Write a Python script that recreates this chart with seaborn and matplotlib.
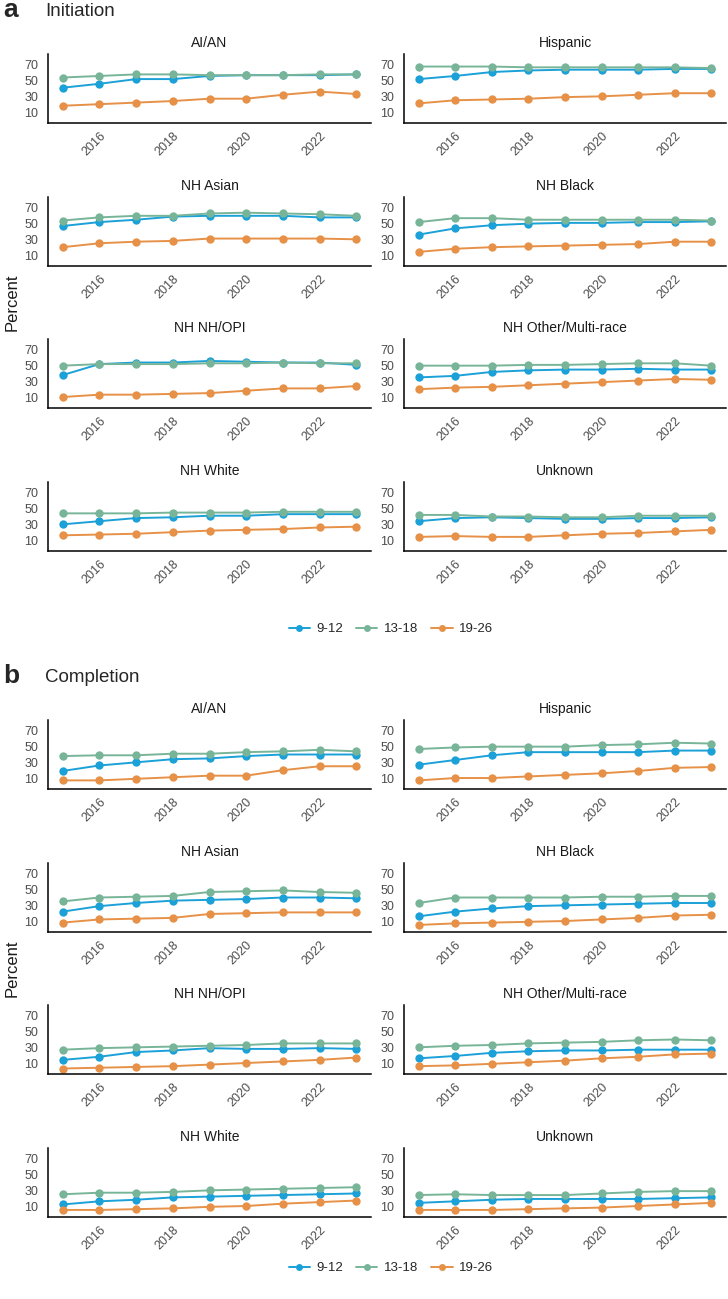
import numpy as np
import pandas as pd
import matplotlib.pyplot as plt
import seaborn as sns
from matplotlib.lines import Line2D

years = list(range(2015, 2024))
groups = ["AI/AN", "Hispanic", "NH Asian", "NH Black",
          "NH NH/OPI", "NH Other/Multi-race", "NH White", "Unknown"]
ages = ["9-12", "13-18", "19-26"]
colors = {"9-12": "#1BA1D8", "13-18": "#78B598", "19-26": "#E69147"}

# Initiation (percent), one list per group, years 2015-2023
init_9_12 = {
    "AI/AN": [41, 46, 52, 52, 56, 57, 57, 57, 58],
    "Hispanic": [52, 56, 61, 63, 64, 64, 64, 65, 65],
    "NH Asian": [47, 52, 55, 59, 60, 60, 60, 58, 58],
    "NH Black": [36, 44, 48, 50, 51, 51, 52, 52, 53],
    "NH NH/OPI": [38, 52, 54, 54, 56, 55, 54, 54, 51],
    "NH Other/Multi-race": [35, 37, 42, 44, 45, 45, 46, 45, 45],
    "NH White": [30, 34, 38, 39, 41, 41, 43, 43, 43],
    "Unknown": [34, 38, 39, 38, 37, 37, 38, 38, 39],
}
init_13_18 = {
    "AI/AN": [54, 56, 58, 58, 57, 57, 57, 58, 58],
    "Hispanic": [68, 68, 68, 67, 67, 67, 67, 67, 66],
    "NH Asian": [54, 58, 60, 60, 63, 64, 63, 62, 60],
    "NH Black": [52, 57, 57, 55, 55, 55, 55, 55, 54],
    "NH NH/OPI": [50, 52, 52, 52, 53, 53, 54, 53, 53],
    "NH Other/Multi-race": [50, 50, 50, 51, 51, 52, 53, 53, 50],
    "NH White": [44, 44, 44, 45, 45, 45, 46, 46, 46],
    "Unknown": [42, 42, 40, 40, 39, 39, 41, 41, 41],
}
init_19_26 = {
    "AI/AN": [18, 20, 22, 24, 27, 27, 32, 36, 33],
    "Hispanic": [21, 25, 26, 27, 29, 30, 32, 34, 34],
    "NH Asian": [20, 25, 27, 28, 31, 31, 31, 31, 30],
    "NH Black": [14, 18, 20, 21, 22, 23, 24, 27, 27],
    "NH NH/OPI": [10, 13, 13, 14, 15, 18, 21, 21, 24],
    "NH Other/Multi-race": [20, 22, 23, 25, 27, 29, 31, 33, 32],
    "NH White": [16, 17, 18, 20, 22, 23, 24, 26, 27],
    "Unknown": [14, 15, 14, 14, 16, 18, 19, 21, 23],
}

# Completion (percent)
comp_9_12 = {
    "AI/AN": [19, 26, 30, 34, 35, 38, 40, 40, 40],
    "Hispanic": [27, 33, 39, 43, 43, 43, 43, 45, 45],
    "NH Asian": [22, 29, 33, 36, 37, 38, 40, 40, 39],
    "NH Black": [16, 22, 26, 29, 30, 31, 32, 33, 33],
    "NH NH/OPI": [14, 18, 24, 26, 29, 28, 28, 29, 28],
    "NH Other/Multi-race": [16, 19, 23, 25, 26, 26, 27, 27, 27],
    "NH White": [12, 16, 18, 21, 22, 23, 24, 25, 26],
    "Unknown": [14, 16, 18, 19, 19, 19, 19, 20, 21],
}
comp_13_18 = {
    "AI/AN": [38, 39, 39, 41, 41, 43, 44, 46, 44],
    "Hispanic": [47, 49, 50, 50, 50, 52, 53, 55, 54],
    "NH Asian": [35, 40, 41, 42, 47, 48, 49, 47, 46],
    "NH Black": [33, 40, 40, 40, 40, 41, 41, 42, 42],
    "NH NH/OPI": [27, 29, 30, 31, 32, 33, 35, 35, 35],
    "NH Other/Multi-race": [30, 32, 33, 35, 36, 37, 39, 40, 39],
    "NH White": [25, 27, 27, 28, 30, 31, 32, 33, 34],
    "Unknown": [24, 25, 24, 24, 24, 26, 28, 29, 29],
}
comp_19_26 = {
    "AI/AN": [7, 7, 9, 11, 13, 13, 20, 25, 25],
    "Hispanic": [7, 10, 10, 12, 14, 16, 19, 23, 24],
    "NH Asian": [8, 12, 13, 14, 19, 20, 21, 21, 21],
    "NH Black": [5, 7, 8, 9, 10, 12, 14, 17, 18],
    "NH NH/OPI": [3, 4, 5, 6, 8, 10, 12, 14, 17],
    "NH Other/Multi-race": [6, 7, 9, 11, 13, 16, 18, 21, 22],
    "NH White": [5, 5, 6, 7, 9, 10, 13, 15, 17],
    "Unknown": [5, 5, 5, 6, 7, 8, 10, 12, 14],
}


def to_long(d9, d13, d19):
    rows = []
    for age, d in zip(ages, [d9, d13, d19]):
        for g in groups:
            for yr, v in zip(years, d[g]):
                rows.append({"group": g, "age": age, "year": yr, "pct": v})
    return pd.DataFrame(rows)


df_init = to_long(init_9_12, init_13_18, init_19_26)
df_comp = to_long(comp_9_12, comp_13_18, comp_19_26)

sns.set_theme(style="white")
plt.rcParams["font.family"] = ["Liberation Sans", "DejaVu Sans"]

W, H = 728, 1299
fig = plt.figure(figsize=(W / 100, H / 100), dpi=100)


def add_ax(x0, y0, w, h):
    return fig.add_axes([x0 / W, 1 - (y0 + h) / H, w / W, h / H])


col_x = [(48, 323), (404, 322)]
ax_h = 69


def draw_panel(df, letter, title, top, row_tops, legend_y):
    fig.text(3 / W, 1 - top / H, letter, fontsize=19, fontweight="bold",
             va="baseline", ha="left")
    fig.text(45 / W, 1 - (top - 1) / H, title, fontsize=13.5, va="baseline", ha="left")
    for i, g in enumerate(groups):
        r, c = divmod(i, 2)
        ax = add_ax(col_x[c][0], row_tops[r], col_x[c][1], ax_h)
        sub = df[df["group"] == g]
        sns.lineplot(data=sub, x="year", y="pct", hue="age", hue_order=ages,
                     palette=colors, marker="o", markersize=6,
                     markeredgewidth=0, linewidth=1.4, errorbar=None,
                     legend=False, ax=ax)
        ax.set_xlim(2014.6, 2023.4)
        ax.set_ylim(-4, 84)
        ax.set_xticks([2016, 2018, 2020, 2022])
        ax.set_yticks([10, 30, 50, 70])
        ax.set_xlabel("")
        ax.set_ylabel("")
        ax.set_title(g, fontsize=10, color="#1A1A1A", pad=5)
        for s in ["top", "right"]:
            ax.spines[s].set_visible(False)
        for s in ["left", "bottom"]:
            ax.spines[s].set_color("black")
            ax.spines[s].set_linewidth(1.1)
        ax.tick_params(axis="both", length=0, labelsize=9, labelcolor="#4D4D4D")
        ax.tick_params(axis="y", pad=7)
        ax.tick_params(axis="x", pad=5)
        for lab in ax.get_xticklabels():
            lab.set_rotation(45)
            lab.set_ha("right")
            lab.set_va("top")
            lab.set_rotation_mode("anchor")
    mid = (row_tops[0] + row_tops[-1] + ax_h) / 2
    fig.text(12 / W, 1 - mid / H, "Percent", rotation=90, fontsize=12,
             va="center", ha="center", color="#1A1A1A")
    handles = [Line2D([0], [0], color=colors[a], marker="o", markersize=5,
                      markeredgewidth=0, linewidth=1.4) for a in ages]
    fig.legend(handles, ages, loc="center", bbox_to_anchor=(391 / W, 1 - legend_y / H),
               ncol=3, frameon=False, fontsize=9.5, handlelength=1.6,
               handletextpad=0.5, columnspacing=1.0)


draw_panel(df_init, "a", "Initiation", 17, [54, 197, 339, 482], 629)
draw_panel(df_comp, "b", "Completion", 683, [720, 863, 1005, 1148], 1268)

fig.savefig("out.png", dpi=100)
